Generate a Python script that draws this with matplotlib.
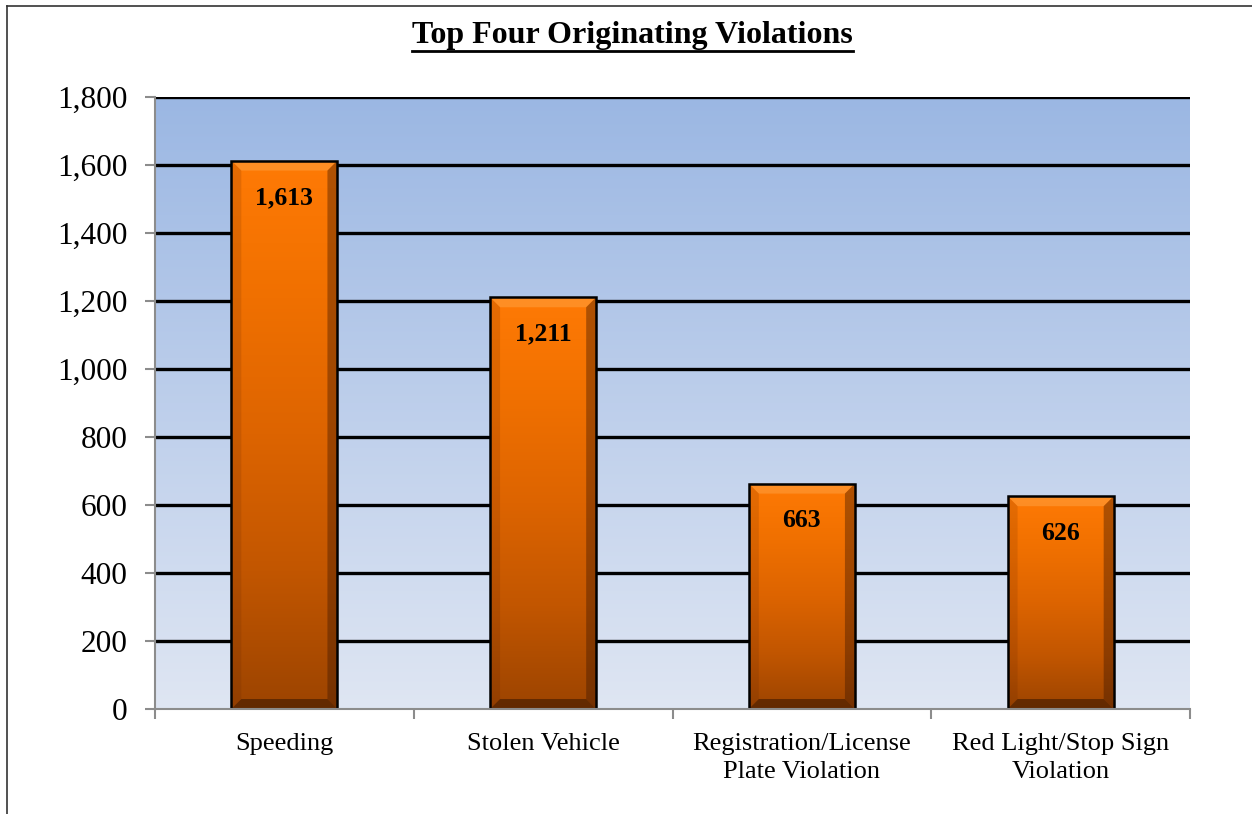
import matplotlib
matplotlib.use("Agg")
import matplotlib.pyplot as plt
import numpy as np
from matplotlib.patches import Rectangle, Polygon
from matplotlib.colors import LinearSegmentedColormap
from matplotlib.ticker import FuncFormatter, FixedLocator
from matplotlib.lines import Line2D

categories = ["Speeding", "Stolen Vehicle", "Registration/License\nPlate Violation",
              "Red Light/Stop Sign\nViolation"]
values = [1613, 1211, 663, 626]
yticks = [0, 200, 400, 600, 800, 1000, 1200, 1400, 1600, 1800]
title = "Top Four Originating Violations"

plt.rcParams['font.family'] = ['Liberation Serif', 'DejaVu Serif']

W, H = 1252, 814
fig = plt.figure(figsize=(W / 100, H / 100), dpi=100)
ax = fig.add_axes([155 / W, 1 - 709 / H, (1190 - 155) / W, (709 - 97) / H])
ymax = 1800
ax.set_xlim(-0.5, len(categories) - 0.5)
ax.set_ylim(0, ymax)

# background gradient
bg = LinearSegmentedColormap.from_list("bg", ["#dfe6f3", "#9bb7e3"])
grad = np.linspace(0, 1, 256).reshape(-1, 1)
ax.imshow(grad, aspect='auto', cmap=bg, origin='lower',
          extent=[-0.5, len(categories) - 0.5, 0, ymax], zorder=0)

# gridlines
for t in yticks[1:]:
    ax.axhline(t, color='black', lw=2.4, zorder=1)

# bars
px_x = 1.0 / 259.0  # data units per pixel in x
px_y = ymax / 612.0  # data units per pixel in y
bw = 0.41
bcm = LinearSegmentedColormap.from_list(
    "bar", ["#9c4400", "#c25600", "#dd6400", "#f07000", "#ff7a05"])
for i, v in enumerate(values):
    x0, x1 = i - bw / 2, i + bw / 2
    im = ax.imshow(grad, aspect='auto', cmap=bcm, origin='lower',
                   extent=[x0, x1, 0, v], zorder=2)
    rect = Rectangle((x0, 0), bw, v, facecolor='none', edgecolor='none', zorder=2)
    ax.add_patch(rect)
    im.set_clip_path(rect)
    bx = 10 * px_x
    by = 10 * px_y
    # top bevel (lighter)
    ax.add_patch(Polygon([(x0, v), (x1, v), (x1 - bx, v - by), (x0 + bx, v - by)],
                         closed=True, facecolor='#ffa040', alpha=0.55, edgecolor='none', zorder=3))
    # left bevel
    ax.add_patch(Polygon([(x0, 0), (x0, v), (x0 + bx, v - by), (x0 + bx, by)],
                         closed=True, facecolor='#5a2000', alpha=0.15, edgecolor='none', zorder=3))
    # right bevel (darker)
    ax.add_patch(Polygon([(x1, 0), (x1, v), (x1 - bx, v - by), (x1 - bx, by)],
                         closed=True, facecolor='#3a1500', alpha=0.4, edgecolor='none', zorder=3))
    # bottom bevel (darker)
    ax.add_patch(Polygon([(x0, 0), (x1, 0), (x1 - bx, by), (x0 + bx, by)],
                         closed=True, facecolor='#2a1000', alpha=0.5, edgecolor='none', zorder=3))
    # outline
    ax.add_patch(Rectangle((x0, 0), bw, v, facecolor='none', edgecolor='black',
                           lw=1.8, zorder=4))
    ax.text(i, v - 37 * px_y, f"{v:,}", ha='center', va='center', fontsize=18.5,
            fontweight='bold', color='black', zorder=5)

# axes styling
for s in ['top', 'right']:
    ax.spines[s].set_visible(False)
for s in ['left', 'bottom']:
    ax.spines[s].set_color('#8c8c8c')
    ax.spines[s].set_linewidth(1.5)
    ax.spines[s].set_zorder(6)

ax.set_yticks(yticks)
ax.yaxis.set_major_formatter(FuncFormatter(lambda v, p: f"{int(v):,}"))
ax.tick_params(axis='y', direction='out', length=7, width=1.5, color='#8c8c8c',
               labelsize=22.5, pad=13)
ax.set_xticks(range(len(categories)))
ax.set_xticklabels(categories, fontsize=19, linespacing=1.4)
ax.tick_params(axis='x', which='major', length=0, pad=17)
ax.xaxis.set_minor_locator(FixedLocator([k - 0.5 for k in range(len(categories) + 1)]))
ax.tick_params(axis='x', which='minor', direction='out', length=7, width=1.5, color='#8c8c8c')
for lbl in ax.get_xticklabels():
    lbl.set_verticalalignment('top')

# title with underline
t = fig.text(0.505, 1 - 36 / H, title, ha='center', va='center', fontsize=23,
             fontweight='bold')
fig.canvas.draw()
bb = t.get_window_extent(renderer=fig.canvas.get_renderer())
uy = (H - 51) / H
fig.add_artist(Line2D([bb.x0 / W, bb.x1 / W], [uy, uy], color='black', lw=2.0,
                      transform=fig.transFigure))

# outer border (left and top visible)
fig.add_artist(Line2D([7 / W, 7 / W], [0, 1 - 6 / H], color='#333333', lw=1.2,
                      transform=fig.transFigure))
fig.add_artist(Line2D([7 / W, 1], [1 - 6 / H, 1 - 6 / H], color='#333333', lw=1.2,
                      transform=fig.transFigure))

fig.savefig("out.png", dpi=100)
